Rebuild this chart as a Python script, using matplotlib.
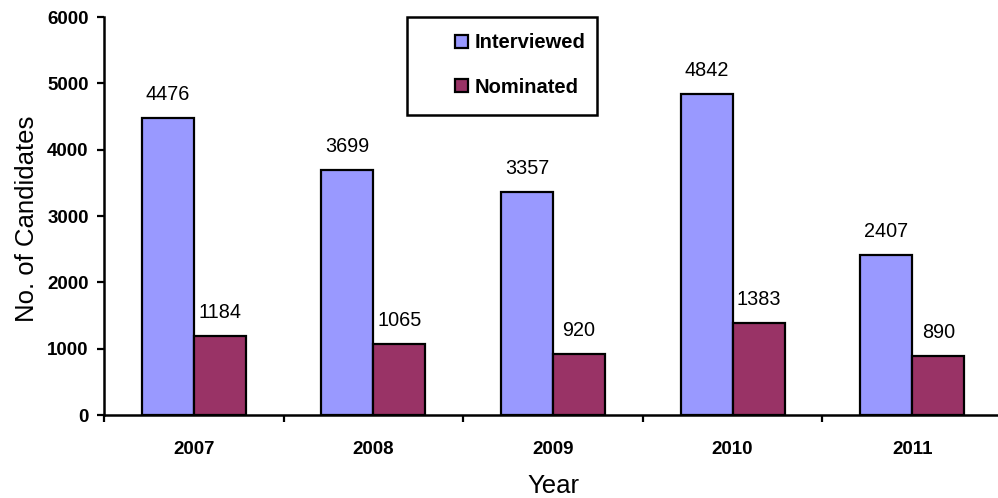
import matplotlib
matplotlib.use("Agg")
import matplotlib.pyplot as plt
import numpy as np
from matplotlib.patches import Rectangle

years = ["2007", "2008", "2009", "2010", "2011"]
interviewed = [4476, 3699, 3357, 4842, 2407]
nominated = [1184, 1065, 920, 1383, 890]
yticks = [0, 1000, 2000, 3000, 4000, 5000, 6000]

plt.rcParams['font.family'] = ['Liberation Sans', 'DejaVu Sans']

W, H = 998, 498
fig = plt.figure(figsize=(W / 100, H / 100), dpi=100)
ax_left, ax_right, ax_top, ax_bot = 104, 998, 17, 415
ax = fig.add_axes([ax_left / W, 1 - ax_bot / H, (ax_right - ax_left) / W, (ax_bot - ax_top) / H])

cat_w = 179.6
x = np.arange(len(years))
bw = 0.29
c1, c2 = '#9999FF', '#993366'
b1 = ax.bar(x - bw / 2, interviewed, bw, color=c1, edgecolor='black', linewidth=1.6, label='Interviewed', zorder=3)
b2 = ax.bar(x + bw / 2, nominated, bw, color=c2, edgecolor='black', linewidth=1.6, label='Nominated', zorder=3)

for bars, vals in ((b1, interviewed), (b2, nominated)):
    for r, v in zip(bars, vals):
        ax.annotate(str(v), (r.get_x() + r.get_width() / 2, v), xytext=(0, 17),
                    textcoords='offset points', ha='center', va='center', fontsize=14.3)

ax.set_xlim(-0.5, (ax_right - ax_left) / cat_w - 0.5)
ax.set_ylim(0, 6000)
ax.set_yticks(yticks)
ax.set_yticklabels([str(t) for t in yticks], fontsize=13.5, fontweight='bold')
ax.set_xticks(x)
ax.set_xticklabels(years, fontsize=13.5, fontweight='bold')
ax.set_xticks(np.arange(-0.5, len(years) - 0.5, 1.0), minor=True)
ax.tick_params(axis='x', which='major', length=0, pad=19)
ax.tick_params(axis='x', which='minor', length=5, width=1.6, direction='out')
ax.tick_params(axis='y', which='major', length=5, width=1.6, direction='out', pad=6)

for s in ('top', 'right'):
    ax.spines[s].set_visible(False)
for s in ('left', 'bottom'):
    ax.spines[s].set_linewidth(1.8)

ax.set_xlabel('Year', fontsize=18.5)
ax.xaxis.set_label_coords(0.503, -0.148)
ax.set_ylabel('No. of Candidates', fontsize=18.5)
ax.yaxis.set_label_coords(-0.073, 0.492)

# legend frame
fig.patches.append(Rectangle((407 / W, 1 - 115 / H), (597 - 407) / W, (115 - 17) / H,
                             transform=fig.transFigure, fill=False, edgecolor='black',
                             linewidth=1.8, zorder=5))
leg = fig.legend(handles=[b1, b2], labels=['Interviewed', 'Nominated'], loc='center left',
                 bbox_to_anchor=(455 / W, 1 - 65 / H), bbox_transform=fig.transFigure,
                 frameon=False, borderpad=0, borderaxespad=0, handlelength=0.65,
                 handleheight=0.65, handletextpad=0.3, labelspacing=1.25,
                 prop={'size': 14.5, 'weight': 'bold'})

fig.savefig('out.png', dpi=100)
